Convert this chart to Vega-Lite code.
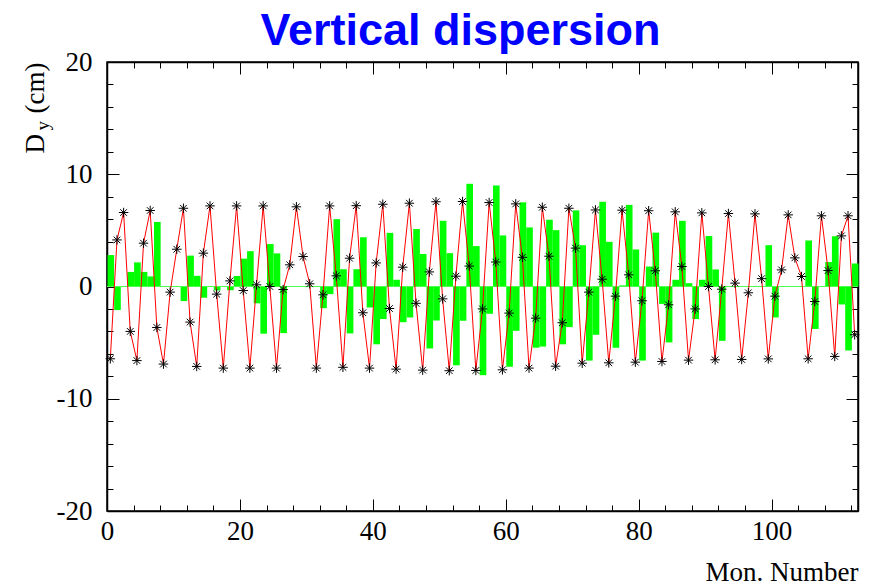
{
  "$schema": "https://vega.github.io/schema/vega-lite/v6.json",
  "width": 751,
  "height": 449,
  "autosize": "none",
  "padding": {"left": 107, "top": 62, "right": 18, "bottom": 74},
  "background": "white",
  "title": {"text": "Vertical dispersion", "font": "Liberation Sans", "fontSize": 45, "fontWeight": "bold", "color": "#0000ff", "anchor": "middle", "frame": "group", "dx": -22, "offset": -42, "baseline": "alphabetic"},
  "config": {
    "view": {"stroke": "black", "strokeWidth": 1.5},
    "axis": {"domainColor": "black", "domainWidth": 1.5, "tickColor": "black", "tickWidth": 1, "labelFont": "Liberation Serif", "labelFontSize": 27, "labelColor": "black", "titleFont": "Liberation Serif", "titleFontSize": 27, "titleFontWeight": "normal", "titleColor": "black", "grid": false, "labelFlush": false, "labelOverlap": false}
  },
  "data": {"values": [
    {"m":0.5,"bar":2.8,"orb":-6.44},{"m":1.5,"bar":-2.1,"orb":4.15},{"m":2.5,"bar":0,"orb":6.59},{"m":3.5,"bar":1.3,"orb":-4.0},{"m":4.5,"bar":2.15,"orb":-6.6},
    {"m":5.5,"bar":1.3,"orb":3.86},{"m":6.5,"bar":0.9,"orb":6.77},{"m":7.5,"bar":5.75,"orb":-3.65},{"m":8.5,"bar":0,"orb":-6.91},{"m":9.5,"bar":0,"orb":-0.5},
    {"m":10.5,"bar":0,"orb":3.32},{"m":11.5,"bar":-1.3,"orb":6.97},{"m":12.5,"bar":2.75,"orb":-3.17},{"m":13.5,"bar":0.95,"orb":-7.12},{"m":14.5,"bar":-1.0,"orb":2.97},
    {"m":15.5,"bar":0,"orb":7.18},{"m":16.5,"bar":-0.35,"orb":-0.68},{"m":17.5,"bar":0,"orb":-7.27},{"m":18.5,"bar":-0.33,"orb":0.5},{"m":19.5,"bar":0.93,"orb":7.18},
    {"m":20.5,"bar":2.48,"orb":-0.36},{"m":21.5,"bar":3.15,"orb":-7.27},{"m":22.5,"bar":-1.5,"orb":0.15},{"m":23.5,"bar":-4.2,"orb":7.18},{"m":24.5,"bar":3.78,"orb":0.0},
    {"m":25.5,"bar":2.95,"orb":-7.27},{"m":26.5,"bar":-4.15,"orb":-0.27},{"m":27.5,"bar":0,"orb":1.93},{"m":28.5,"bar":0,"orb":7.1},{"m":29.5,"bar":0,"orb":2.67},
    {"m":30.5,"bar":0,"orb":0.24},{"m":31.5,"bar":0,"orb":-7.27},{"m":32.5,"bar":-1.93,"orb":-0.74},{"m":33.5,"bar":-0.68,"orb":7.18},{"m":34.5,"bar":6.0,"orb":0.95},
    {"m":35.5,"bar":1.54,"orb":-7.2},{"m":36.5,"bar":-4.18,"orb":2.52},{"m":37.5,"bar":1.54,"orb":7.2},{"m":38.5,"bar":4.38,"orb":-2.34},{"m":39.5,"bar":-1.87,"orb":-7.27},
    {"m":40.5,"bar":-5.15,"orb":2.1},{"m":41.5,"bar":-2.9,"orb":7.33},{"m":42.5,"bar":4.78,"orb":-1.96},{"m":43.5,"bar":0.6,"orb":-7.36},{"m":44.5,"bar":-3.18,"orb":1.72},
    {"m":45.5,"bar":-2.76,"orb":7.42},{"m":46.5,"bar":5.12,"orb":-1.5},{"m":47.5,"bar":2.9,"orb":-7.45},{"m":48.5,"bar":-5.52,"orb":1.3},{"m":49.5,"bar":-3.03,"orb":7.55},
    {"m":50.5,"bar":5.85,"orb":-1.1},{"m":51.5,"bar":2.97,"orb":-7.5},{"m":52.5,"bar":-7.02,"orb":0.92},{"m":53.5,"bar":-3.05,"orb":7.57},{"m":54.5,"bar":9.15,"orb":1.82},
    {"m":55.5,"bar":3.6,"orb":-7.48},{"m":56.5,"bar":-7.9,"orb":-2.0},{"m":57.5,"bar":-2.43,"orb":7.48},{"m":58.5,"bar":9.0,"orb":2.18},{"m":59.5,"bar":4.55,"orb":-7.42},
    {"m":60.5,"bar":-7.15,"orb":-2.37},{"m":61.5,"bar":-3.95,"orb":7.36},{"m":62.5,"bar":7.5,"orb":2.6},{"m":63.5,"bar":5.26,"orb":-7.27},{"m":64.5,"bar":-5.45,"orb":-2.82},
    {"m":65.5,"bar":-5.35,"orb":7.06},{"m":66.5,"bar":5.95,"orb":2.7},{"m":67.5,"bar":5.02,"orb":-7.1},{"m":68.5,"bar":-5.15,"orb":-3.23},{"m":69.5,"bar":-3.62,"orb":6.97},
    {"m":70.5,"bar":6.78,"orb":3.42},{"m":71.5,"bar":3.68,"orb":-6.83},{"m":72.5,"bar":-6.6,"orb":-0.5},{"m":73.5,"bar":-4.3,"orb":6.82},{"m":74.5,"bar":7.55,"orb":0.65},
    {"m":75.5,"bar":3.98,"orb":-6.8},{"m":76.5,"bar":-5.45,"orb":-0.86},{"m":77.5,"bar":0.1,"orb":6.8},{"m":78.5,"bar":7.27,"orb":1.04},{"m":79.5,"bar":3.3,"orb":-6.74},
    {"m":80.5,"bar":-6.6,"orb":-1.27},{"m":81.5,"bar":1.78,"orb":6.75},{"m":82.5,"bar":4.8,"orb":1.4},{"m":83.5,"bar":-1.55,"orb":-6.68},{"m":84.5,"bar":-4.98,"orb":-1.63},
    {"m":85.5,"bar":0.6,"orb":6.65},{"m":86.5,"bar":5.85,"orb":1.78},{"m":87.5,"bar":0.3,"orb":-6.56},{"m":88.5,"bar":-2.9,"orb":-2.0},{"m":89.5,"bar":0.6,"orb":6.56},
    {"m":90.5,"bar":4.5,"orb":0.0},{"m":91.5,"bar":1.52,"orb":-6.53},{"m":92.5,"bar":-4.84,"orb":-0.24},{"m":93.5,"bar":0,"orb":6.5},{"m":94.5,"bar":0,"orb":0.3},
    {"m":95.5,"bar":0,"orb":-6.5},{"m":96.5,"bar":0,"orb":-0.56},{"m":97.5,"bar":0,"orb":6.47},{"m":98.5,"bar":0,"orb":0.7},{"m":99.5,"bar":3.68,"orb":-6.45},
    {"m":100.5,"bar":-2.76,"orb":-0.86},{"m":101.5,"bar":0,"orb":1.48},{"m":102.5,"bar":0,"orb":6.38},{"m":103.5,"bar":0,"orb":2.55},{"m":104.5,"bar":0,"orb":0.89},
    {"m":105.5,"bar":4.1,"orb":-6.44},{"m":106.5,"bar":-3.78,"orb":-1.34},{"m":107.5,"bar":0,"orb":6.3},{"m":108.5,"bar":2.18,"orb":1.42},{"m":109.5,"bar":4.48,"orb":-6.23},
    {"m":110.5,"bar":-1.6,"orb":4.51},{"m":111.5,"bar":-5.7,"orb":6.3},{"m":112.5,"bar":2.05,"orb":-4.3}
  ]},
  "resolve": {"axis": {"x": "independent", "y": "independent"}},
  "layer": [
    {
      "mark": {"type": "bar", "color": "#00ff00", "binSpacing": 0},
      "encoding": {
        "x": {"field": "m", "type": "quantitative", "bin": {"step": 1, "extent": [0, 113]},
              "scale": {"domain": [0, 113], "nice": false, "zero": false},
              "axis": {"orient": "bottom", "values": [0,4,8,12,16,20,24,28,32,36,40,44,48,52,56,60,64,68,72,76,80,84,88,92,96,100,104,108,112],
                       "tickSize": {"condition": {"test": "datum.value % 20 === 0", "value": -12}, "value": -6},
                       "labelExpr": "datum.value % 20 === 0 ? '' + datum.value : ''",
                       "labelPadding": 19, "labelBaseline": "top",
                       "title": "Mon. Number", "titleAnchor": "end", "titleAlign": "right", "titleBaseline": "alphabetic", "titleX": 751, "titleY": 69}},
        "y": {"aggregate": "sum", "field": "bar", "type": "quantitative",
              "scale": {"domain": [-20, 20], "nice": false, "zero": false},
              "axis": {"orient": "left", "values": [-20,-18,-16,-14,-12,-10,-8,-6,-4,-2,0,2,4,6,8,10,12,14,16,18,20],
                       "tickSize": {"condition": {"test": "datum.value % 10 === 0", "value": -12}, "value": -6},
                       "labelExpr": "datum.value % 10 === 0 ? '' + datum.value : ''",
                       "labelPadding": 27, "labelBaseline": "middle",
                       "title": "D", "titleAngle": 270, "titleAlign": "left", "titleBaseline": "alphabetic", "titleX": -64, "titleY": 91}}
      }
    },
    {
      "mark": {"type": "rule", "color": "#4dff4d", "strokeWidth": 1},
      "encoding": {
        "y": {"datum": 0, "type": "quantitative",
              "scale": {"domain": [-20, 20], "nice": false, "zero": false},
              "axis": {"orient": "right", "values": [-20,-18,-16,-14,-12,-10,-8,-6,-4,-2,0,2,4,6,8,10,12,14,16,18,20],
                       "tickSize": {"condition": {"test": "datum.value % 10 === 0", "value": -12}, "value": -6},
                       "labels": false, "title": null}}
      }
    },
    {
      "mark": {"type": "line", "color": "#ff0000", "strokeWidth": 1},
      "encoding": {
        "x": {"field": "m", "type": "quantitative", "scale": {"domain": [0, 113], "nice": false, "zero": false},
              "axis": {"orient": "top", "values": [0,4,8,12,16,20,24,28,32,36,40,44,48,52,56,60,64,68,72,76,80,84,88,92,96,100,104,108,112],
                       "tickSize": {"condition": {"test": "datum.value % 20 === 0", "value": -12}, "value": -6},
                       "labels": false, "title": null}},
        "y": {"field": "orb", "type": "quantitative", "scale": {"domain": [-20, 20], "nice": false, "zero": false},
              "axis": {"orient": "left", "labels": false, "ticks": false, "domain": false,
                       "title": "y", "titleFontSize": 19, "titleAngle": 270, "titleAlign": "left", "titleBaseline": "alphabetic", "titleX": -59, "titleY": 68}}
      }
    },
    {
      "mark": {"type": "point", "shape": "M-1,0L1,0M0,-1L0,1M-0.7,-0.7L0.7,0.7M-0.7,0.7L0.7,-0.7", "filled": false, "color": "black", "strokeWidth": 1, "size": 90, "opacity": 1},
      "encoding": {
        "x": {"field": "m", "type": "quantitative", "scale": {"domain": [0, 113], "nice": false, "zero": false}, "axis": null},
        "y": {"field": "orb", "type": "quantitative", "scale": {"domain": [-20, 20], "nice": false, "zero": false},
              "axis": {"orient": "left", "labels": false, "ticks": false, "domain": false,
                       "title": "(cm)", "titleAngle": 270, "titleAlign": "left", "titleBaseline": "alphabetic", "titleX": -64, "titleY": 51}}
      }
    }
  ]
}
